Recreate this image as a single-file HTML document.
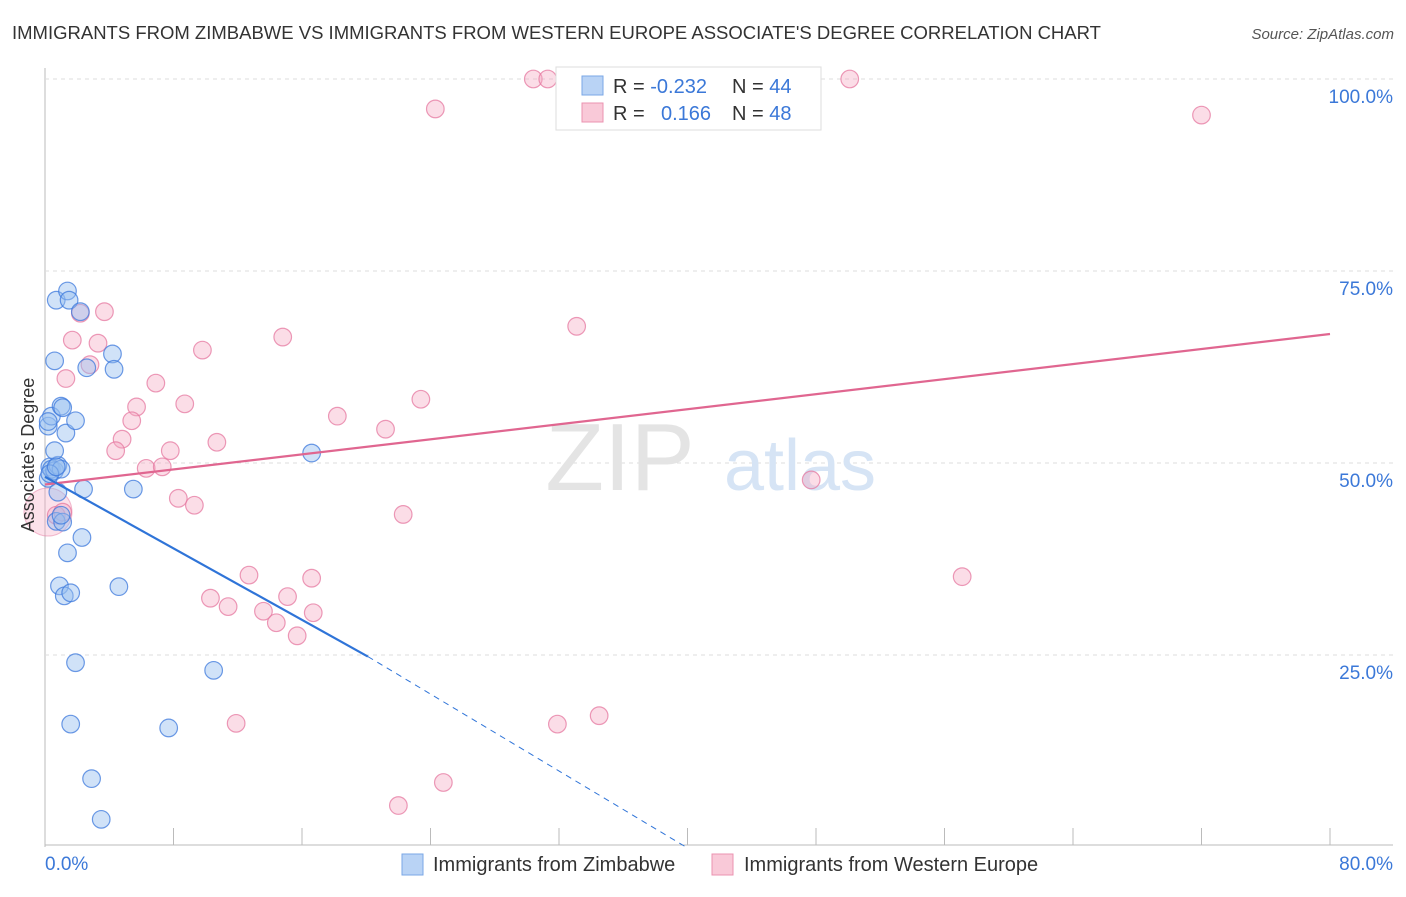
<!DOCTYPE html>
<html><head><meta charset="utf-8"><style>
body{margin:0;background:#fff;font-family:"Liberation Sans",sans-serif}
svg text{font-family:"Liberation Sans",sans-serif}
</style></head><body>
<svg width="1406" height="892" viewBox="0 0 1406 892" xmlns="http://www.w3.org/2000/svg">
<text x="12" y="39" font-size="18.5" fill="#333">IMMIGRANTS FROM ZIMBABWE VS IMMIGRANTS FROM WESTERN EUROPE ASSOCIATE'S DEGREE CORRELATION CHART</text>
<text x="1394" y="39" font-size="15" fill="#555" font-style="italic" text-anchor="end">Source: ZipAtlas.com</text>
<g id="grid"></g>
<text x="620" y="490" font-size="96" fill="#e4e4e4" font-family="Liberation Serif" text-anchor="middle">ZIP</text>
<text x="800" y="490" font-size="72" fill="#d6e4f5" text-anchor="middle">atlas</text>
<g id="pts"></g>
<g id="lines"></g>
<text transform="translate(34,455) rotate(-90)" font-size="18" fill="#333" text-anchor="middle">Associate's Degree</text>
<text x="45" y="870" font-size="19" fill="#3b78d8">0.0%</text>
<text x="1393" y="870" font-size="19" fill="#3b78d8" text-anchor="end">80.0%</text>
<g>
<rect x="402" y="854" width="21" height="21" fill="#b9d3f5" stroke="#7aa7e6"/>
<text x="433" y="871" font-size="20" fill="#333">Immigrants from Zimbabwe</text>
<rect x="712" y="854" width="21" height="21" fill="#f9c9d8" stroke="#eb93b0"/>
<text x="744" y="871" font-size="20" fill="#333">Immigrants from Western Europe</text>
</g>
<g>
<rect x="556" y="67" width="265" height="63" fill="#fff" stroke="#ddd"/>
<rect x="582" y="76" width="21" height="19" fill="#b9d3f5" stroke="#7aa7e6"/>
<rect x="582" y="103" width="21" height="19" fill="#f9c9d8" stroke="#eb93b0"/>
<text x="613" y="93" font-size="20" fill="#333">R = <tspan fill="#3b78d8">-0.232</tspan><tspan x="732">N = </tspan><tspan fill="#3b78d8">44</tspan></text>
<text x="613" y="120" font-size="20" fill="#333">R = <tspan fill="#3b78d8" x="661">0.166</tspan><tspan x="732">N = </tspan><tspan fill="#3b78d8">48</tspan></text>
</g>
</svg>
<script>
const yTicks=[25,50,75,100];
const xTicks=[0,8,16,24,32,40,48,56,64,72,80];
const blueX=[0.2,0.3,0.4,0.6,0.8,1.0,0.2,0.4,0.6,0.2,0.6,0.7,1.4,1.5,2.2,2.6,4.2,4.3,1.0,1.1,1.3,1.9,0.8,2.4,5.5,16.6,0.7,1.1,2.3,1.4,0.9,1.2,1.6,4.6,1.9,10.5,1.6,7.7,2.9,3.5,1.0,0.3,0.7];
const blueY=[48,49.5,49.2,49,49.7,49.2,54.8,56.1,51.6,55.4,63.3,71.2,72.4,71.2,69.7,62.4,64.2,62.2,57.4,57.2,53.9,55.5,46.2,46.6,46.6,51.3,42.4,42.3,40.3,38.3,34,32.7,33.1,33.9,24,23,16,15.5,8.9,3.6,43.2,48.6,49.5];
const pinkX=[30.4,31.3,50.1,24.3,72.0,2.2,3.7,1.7,3.3,9.8,14.8,33.1,1.3,2.8,6.9,8.7,5.7,5.4,4.8,4.4,7.8,10.7,18.2,21.2,23.4,6.3,7.3,8.3,9.3,22.3,47.7,0.7,1.1,12.7,16.6,57.1,10.3,11.4,15.1,13.6,14.4,16.7,15.7,11.9,31.9,34.5,24.8,22.0];
const pinkY=[100,100,100,96.1,95.3,69.5,69.7,66,65.6,64.7,66.4,67.8,61,62.8,60.4,57.7,57.3,55.5,53.1,51.6,51.6,52.7,56.1,54.4,58.3,49.3,49.5,45.4,44.5,43.3,47.8,43.2,43.6,35.4,35,35.2,32.4,31.3,32.6,30.7,29.2,30.5,27.5,16.1,16,17.1,8.4,5.4];
const pinkLine=[0,47.2,80,66.8];
const blueLine=[0,48.2,20.1,24.8,39.9,0];
const X=v=>45+v/80*1285, Y=v=>847-v/100*768;
const ns="http://www.w3.org/2000/svg";
function mk(t,a,p){const e=document.createElementNS(ns,t);for(const k in a)e.setAttribute(k,a[k]);p.appendChild(e);return e;}
const grid=document.getElementById('grid');
mk('line',{x1:45,y1:68,x2:45,y2:847,stroke:'#bbb'},grid);
mk('line',{x1:45,y1:845,x2:1393,y2:845,stroke:'#bbb'},grid);
yTicks.forEach(t=>{
 const l=mk('line',{x1:45,y1:Y(t),x2:1393,y2:Y(t),stroke:'#ddd','stroke-dasharray':'4,4'},grid);
 
 
 const tx=mk('text',{x:1393,y:Y(t)+24,'font-size':19,fill:'#3b78d8','text-anchor':'end'},grid);
 tx.textContent=t.toFixed(1)+'%';
 
 
});
xTicks.forEach(t=>{
 const l=mk('line',{x1:X(t),y1:828,x2:X(t),y2:845,stroke:'#bbb'},grid);
 
 
});
const pts=document.getElementById('pts');
const blob=mk('circle',{cx:48,cy:512,r:24,fill:'rgba(245,170,195,0.35)',stroke:'rgba(230,120,160,0.5)'},pts);


pinkX.forEach((x,i)=>{
 const c=mk('circle',{cx:X(x),cy:Y(pinkY[i]),r:8.8,fill:'rgba(245,170,195,0.4)',stroke:'rgba(230,120,160,0.75)','stroke-width':1.2},pts);
 
 
});
blueX.forEach((x,i)=>{
 const c=mk('circle',{cx:X(x),cy:Y(blueY[i]),r:8.8,fill:'rgba(150,190,240,0.45)',stroke:'rgba(60,120,220,0.75)','stroke-width':1.2},pts);
 
 
});
const lines=document.getElementById('lines');
const pl=mk('line',{x1:X(pinkLine[0]),y1:Y(pinkLine[1]),x2:X(pinkLine[2]),y2:Y(pinkLine[3]),stroke:'#e06690','stroke-width':2.2},lines);


const bl=mk('line',{x1:X(blueLine[0]),y1:Y(blueLine[1]),x2:X(blueLine[2]),y2:Y(blueLine[3]),stroke:'#2f74d8','stroke-width':2.2},lines);


const bd=mk('line',{x1:X(blueLine[2]),y1:Y(blueLine[3]),x2:X(blueLine[4]),y2:Y(blueLine[5]),stroke:'#2f74d8','stroke-width':1,'stroke-dasharray':'6,5'},lines);


</script>
</body></html>
